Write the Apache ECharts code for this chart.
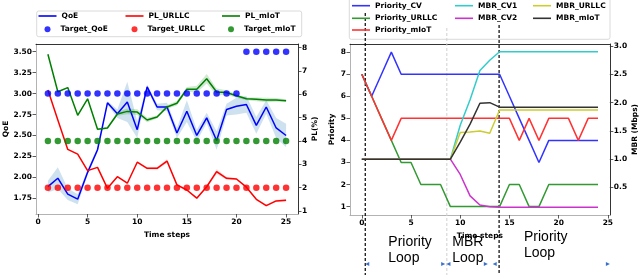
<!DOCTYPE html>
<html><head><meta charset="utf-8">
<script src="https://cdn.jsdelivr.net/npm/echarts@6/dist/echarts.min.js"></script>
<style>html,body{margin:0;padding:0;background:#fff}#c{width:640px;height:275px}</style>
</head><body><div id="c"></div>
<script>
// ---------- Left chart data ----------
const stepsL = [1,2,3,4,5,6,7,8,9,10,11,12,13,14,15,16,17,18,19,20,21,22,23,24,25];
const qoe = [1.89,1.99,1.80,1.74,2.06,2.33,2.89,2.76,2.90,2.57,3.08,2.84,2.84,2.53,2.79,2.50,2.71,2.44,2.81,2.85,2.87,2.62,2.84,2.59,2.50];
const qoeSpread = [0.07,0.13,0.07,0.06,0.03,0.03,0.02,0.05,0.24,0.10,0.03,0.04,0.05,0.06,0.13,0.07,0.06,0.11,0.07,0.10,0.10,0.10,0.08,0.12,0.14];
const targetQoE = [3,3,3,3,3,3,3,3,3,3,3,3,3,3,3,3,3,3,3,3,3.5,3.5,3.5,3.5,3.5];
const plURLLC = [6.19,4.90,3.64,3.44,2.73,2.87,1.97,2.47,2.19,3.09,2.83,2.83,3.14,2.12,1.90,1.55,2.04,2.69,2.40,2.37,2.02,1.50,1.23,1.43,1.46];
const plURLLCSpread = [0.03,0.03,0.03,0.03,0.03,0.03,0.03,0.03,0.03,0.04,0.05,0.06,0.08,0.05,0.04,0.04,0.05,0.10,0.06,0.04,0.04,0.04,0.04,0.05,0.05];
const targetURLLC = [2,2,2,2,2,2,2,2,2,2,2,2,2,2,2,2,2,2,2,2,2,2,2,2,2];
const plMIoT = [7.72,6.11,6.29,5.10,5.81,4.50,4.56,5.16,5.27,5.24,4.90,5.03,5.46,5.62,6.22,6.22,6.67,6.10,6.08,5.94,5.81,5.79,5.76,5.76,5.73];
const plMIoTSpread = [0.03,0.03,0.03,0.03,0.03,0.04,0.05,0.08,0.12,0.12,0.10,0.06,0.08,0.10,0.10,0.15,0.20,0.15,0.10,0.08,0.06,0.08,0.10,0.08,0.06];
const targetMIoT = [4,4,4,4,4,4,4,4,4,4,4,4,4,4,4,4,4,4,4,4,4,4,4,4,4];
const xTicksL = [0,5,10,15,20,25];
const qoeTicks = [1.75,2.00,2.25,2.50,2.75,3.00,3.25,3.50];
const plTicks = [1,2,3,4,5,6,7,8];

// ---------- Right chart data ----------
const stepsR = [0,1,2,3,4,5,6,7,8,9,10,11,12,13,14,15,16,17,18,19,20,21,22,23,24];
const priorityCV    = [7,6,7,8,7,7,7,7,7,7,7,7,7,7,7,6,5,4,3,4,4,4,4,4,4];
const priorityURLLC = [7,6,5,4,3,3,2,2,2,1,1,1,1,1,1,2,2,1,1,2,2,2,2,2,2];
const priorityMIoT  = [7,6,5,4,5,5,5,5,5,5,5,5,5,5,5,5,4,5,4,5,5,5,4,5,5];
const mbrCV1   = [1,1,1,1,1,1,1,1,1,1,1.60,2.05,2.57,2.75,2.90,2.90,2.90,2.90,2.90,2.90,2.90,2.90,2.90,2.90,2.90];
const mbrCV2   = [1,1,1,1,1,1,1,1,1,1,0.73,0.35,0.19,0.16,0.15,0.15,0.15,0.15,0.15,0.15,0.15,0.15,0.15,0.15,0.15];
const mbrURLLC = [1,1,1,1,1,1,1,1,1,1,1.47,1.48,1.50,1.46,1.87,1.87,1.87,1.87,1.87,1.87,1.87,1.87,1.87,1.87,1.87];
const mbrMIoT  = [1,1,1,1,1,1,1,1,1,1,1.30,1.62,1.99,2.00,1.92,1.92,1.92,1.92,1.92,1.92,1.92,1.92,1.92,1.92,1.92];
const xTicksR = [0,5,10,15,20,25];
const priorityTicks = [1,2,3,4,5,6,7,8];
const mbrTicks = [0.5,1.0,1.5,2.0,2.5,3.0];

// ---------- helpers ----------
const FONT = 'DejaVu Sans';
const FS = 7.5;
const txt = {fontFamily: FONT, fontWeight: 'bold', fontSize: FS, color: '#000'};
const pts = (xs, ys) => xs.map((x, i) => [x, ys[i]]);

function xAx(grid, min, max, ticks, name, gap) {
  return {
    type: 'value', gridIndex: grid, min: min, max: max,
    axisLine: {show: true, onZero: false, lineStyle: {color: '#a0a0a0', width: 0.8}},
    axisTick: {show: true, length: 3.5, customValues: ticks, lineStyle: {color: '#333', width: 0.8}},
    axisLabel: Object.assign({customValues: ticks, margin: 4}, txt),
    splitLine: {show: false},
    name: name, nameLocation: 'middle', nameGap: gap,
    nameTextStyle: Object.assign({}, txt)
  };
}
function topAx(grid, min, max) {
  return {type: 'value', gridIndex: grid, position: 'top', min: min, max: max,
    axisLine: {show: true, onZero: false, lineStyle: {color: '#000', width: 0.8}},
    axisTick: {show: false}, axisLabel: {show: false}, splitLine: {show: false}};
}
function yAx(grid, pos, min, max, ticks, fmt, name, gap, lineColor) {
  return {
    type: 'value', gridIndex: grid, position: pos, min: min, max: max,
    axisLine: {show: true, onZero: false, lineStyle: {color: lineColor, width: 0.8}},
    axisTick: {show: true, length: 3.5, customValues: ticks, lineStyle: {color: '#333', width: 0.8}},
    axisLabel: Object.assign({customValues: ticks, margin: 4, formatter: fmt}, txt),
    splitLine: {show: false},
    name: name, nameLocation: 'middle', nameGap: gap, nameRotate: 90,
    nameTextStyle: Object.assign({}, txt)
  };
}
function line(name, xi, yi, xs, ys, color, width) {
  return {name: name, type: 'line', xAxisIndex: xi, yAxisIndex: yi, data: pts(xs, ys),
    showSymbol: false, symbol: 'none', itemStyle: {color: color},
    lineStyle: {color: color, width: width || 1.5}, silent: true, z: 3};
}
// shaded spread band drawn as one polygon through the axis scales
function band(id, xi, yi, xs, ys, sp, fill) {
  return {
    name: id, type: 'custom', xAxisIndex: xi, yAxisIndex: yi, silent: true, z: 1,
    data: xs.map((x, i) => [x, ys[i] - sp[i], ys[i] + sp[i]]),
    encode: {x: 0, y: [1, 2]},
    renderItem: function (params, api) {
      if (params.dataIndex !== 0) return;
      const n = xs.length, up = [], lo = [];
      for (let i = 0; i < n; i++) {
        up.push(api.coord([xs[i], ys[i] + sp[i]]));
        lo.push(api.coord([xs[i], ys[i] - sp[i]]));
      }
      return {type: 'polygon', shape: {points: up.concat(lo.reverse())},
        style: {fill: fill, stroke: null}};
    }
  };
}
function dots(name, xi, yi, xs, ys, color) {
  return {name: name, type: 'scatter', xAxisIndex: xi, yAxisIndex: yi, data: pts(xs, ys),
    symbolSize: 6.5, itemStyle: {color: color}, silent: true, z: 4};
}
function leg(name, L, rowY, kind) {
  const isDot = kind === 'dot';
  return {
    data: [{name: name, icon: isDot ? 'circle' : 'rect'}],
    left: isDot ? L + 6 : L, top: rowY - 5, padding: 0, orient: 'horizontal',
    itemWidth: isDot ? 6 : 18, itemHeight: isDot ? 6 : 1.6, selectedMode: false,
    textStyle: Object.assign({lineHeight: 10, padding: isDot ? [0, 0, 0, 5] : 0}, txt)
  };
}

const C = {
  blue: '#0000ff', red: '#ff0000', green: '#008000',
  pcv: '#3333ff', purllc: '#339933', pmiot: '#ff3333',
  cv1: '#33cccc', cv2: '#cc33cc', murllc: '#cccc33', mmiot: '#333333'
};

const series = [
  band('qoeBand', 0, 0, stepsL, qoe, qoeSpread, 'rgba(31,119,180,0.22)'),
  band('urllcBand', 0, 1, stepsL, plURLLC, plURLLCSpread, 'rgba(255,0,0,0.15)'),
  band('miotBand', 0, 1, stepsL, plMIoT, plMIoTSpread, 'rgba(0,128,0,0.18)'),
  line('QoE', 0, 0, stepsL, qoe, C.blue),
  line('PL_URLLC', 0, 1, stepsL, plURLLC, C.red),
  line('PL_mIoT', 0, 1, stepsL, plMIoT, C.green),
  dots('Target_QoE', 0, 0, stepsL, targetQoE, C.blue),
  dots('Target_URLLC', 0, 1, stepsL, targetURLLC, C.red),
  dots('Target_mIoT', 0, 1, stepsL, targetMIoT, C.green),
  line('Priority_CV', 1, 2, stepsR, priorityCV, C.pcv),
  line('Priority_URLLC', 1, 2, stepsR, priorityURLLC, C.purllc),
  line('Priority_mIoT', 1, 2, stepsR, priorityMIoT, C.pmiot),
  line('MBR_CV1', 1, 3, stepsR, mbrCV1, C.cv1),
  line('MBR_CV2', 1, 3, stepsR, mbrCV2, C.cv2),
  line('MBR_URLLC', 1, 3, stepsR, mbrURLLC, C.murllc),
  line('MBR_mIoT', 1, 3, stepsR, mbrMIoT, C.mmiot)
];

const legends = [
  leg('QoE', 38.5, 16, 'line'), leg('Target_QoE', 38.5, 29.3, 'dot'),
  leg('PL_URLLC', 125.5, 16, 'line'), leg('Target_URLLC', 125.5, 29.3, 'dot'),
  leg('PL_mIoT', 222, 16, 'line'), leg('Target_mIoT', 222, 29.3, 'dot'),
  leg('Priority_CV', 352, 5.7, 'line'), leg('Priority_URLLC', 352, 18.3, 'line'), leg('Priority_mIoT', 352, 30, 'line'),
  leg('MBR_CV1', 455, 5.7, 'line'), leg('MBR_CV2', 455, 18.3, 'line'),
  leg('MBR_URLLC', 533, 5.7, 'line'), leg('MBR_mIoT', 533, 18.3, 'line')
];

const chart = echarts.init(document.getElementById('c'), null, {renderer: 'canvas'});
chart.setOption({
  animation: false,
  backgroundColor: '#fff',
  grid: [
    {left: 36, top: 44, width: 262, height: 170, containLabel: false},
    {left: 350, top: 44, width: 261.7, height: 171, containLabel: false}
  ],
  xAxis: [
    xAx(0, -0.2, 26.2, xTicksL, 'Time steps', 14),
    xAx(1, -1.2, 25.2, xTicksR, 'Time steps', 11),
    topAx(0, -0.2, 26.2),
    topAx(1, -1.2, 25.2)
  ],
  yAxis: [
    yAx(0, 'left', 1.563, 3.592, qoeTicks, v => v.toFixed(2), 'QoE', 26, '#a0a0a0'),
    yAx(0, 'right', 0.87, 8.16, plTicks, v => String(v), 'PL(%)', 11, '#000'),
    yAx(1, 'left', 0.62, 8.37, priorityTicks, v => String(v), 'Priority', 14, '#a0a0a0'),
    yAx(1, 'right', 0.0125, 3.0375, mbrTicks, v => v.toFixed(1), 'MBR (Mbps)', 19, '#000')
  ],
  legend: legends,
  series: series
});

// ---------- annotations ----------
const px = t => chart.convertToPixel({xAxisIndex: 1}, t);
const g = [];
g.push({type: 'rect', shape: {x: 36.7, y: 11, width: 265, height: 25.7, r: 2},
  style: {fill: 'rgba(255,255,255,0.8)', stroke: '#d0d0d0', lineWidth: 0.8}, z: 0, silent: true});
g.push({type: 'rect', shape: {x: 349.3, y: -2, width: 260.7, height: 41.3, r: 2},
  style: {fill: 'rgba(255,255,255,0.8)', stroke: '#d0d0d0', lineWidth: 0.8}, z: 0, silent: true});
const vlines = [
  {t: 0.35, top: 13, color: '#000', w: 1.2},
  {t: 8.64, top: 28, color: '#d0d0d0', w: 1},
  {t: 13.95, top: 25, color: '#000', w: 1.2}
];
vlines.forEach(v => {
  const x = px(v.t);
  g.push({type: 'line', shape: {x1: x, y1: v.top, x2: x, y2: 275},
    style: {stroke: v.color, lineWidth: v.w, lineDash: [3, 2]}, z: 3, silent: true});
});
const labels = [
  {text: 'Priority\nLoop', x: 388.3, y: 249.7},
  {text: 'MBR\nLoop', x: 452.3, y: 250},
  {text: 'Priority\nLoop', x: 524, y: 245.3}
];
labels.forEach(l => g.push({type: 'text', z: 5, silent: true,
  style: {text: l.text, x: l.x, y: l.y, fontSize: 14, fontFamily: 'Liberation Sans', fill: '#000',
    lineHeight: 16, verticalAlign: 'middle', align: 'left'}}));
const arrows = [
  {t: 0.55, dir: -1}, {t: 8.27, dir: 1}, {t: 8.8, dir: -1},
  {t: 12.6, dir: 1}, {t: 13.5, dir: -1}, {t: 25.0, dir: 1}
];
arrows.forEach(a => {
  const x = px(a.t), y = 264;
  g.push({type: 'polygon', z: 5, silent: true,
    shape: {points: [[x + 2 * a.dir, y], [x - 2 * a.dir, y - 2], [x - 2 * a.dir, y + 2]]},
    style: {fill: '#3a6fd0'}});
});
chart.setOption({graphic: g});
</script>
</body></html>
